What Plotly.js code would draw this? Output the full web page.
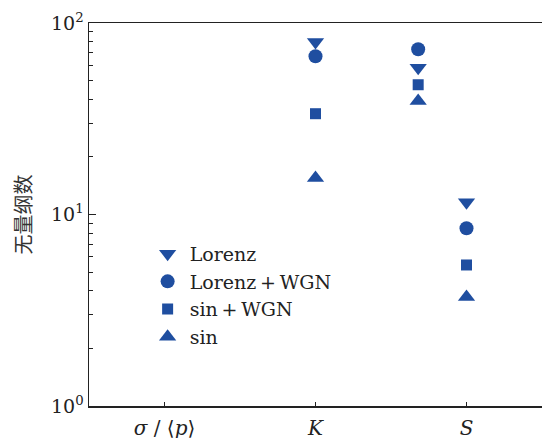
<!DOCTYPE html>
<html>
<head>
<meta charset="utf-8">
<script src="https://cdn.plot.ly/plotly-3.0.1.min.js"></script>
<style>html,body{margin:0;padding:0;background:#fff;}</style>
</head>
<body>
<div id="chart" style="width:542px;height:438px;"></div>
<script>
// Category axis
const categoryPositions = [0, 1, 2];
const categoryLabels = ['<i>σ</i> / ⟨<i>p</i>⟩', '<i>K</i>', '<i>S</i>'];
// x positions of the three marker clusters
const clusterX = [1, 1.68, 2];

// Series values (one per cluster)
const seriesNames = ['Lorenz', 'Lorenz\u2009+\u2009WGN', 'sin\u2009+\u2009WGN', 'sin'];
const lorenz = [79.6, 58.3, 11.6];
const lorenzWGN = [67.0, 72.9, 8.47];
const sinWGN = [33.6, 47.6, 5.45];
const sinOnly = [15.5, 39.1, 3.71];

// y tick labels
const yTickVals = [1, 10, 100];
const yTickText = ['10<sup>0</sup>', '10<sup>1</sup>', '10<sup>2</sup>'];
const yMinorVals = [2,3,4,5,6,7,8,9,20,30,40,50,60,70,80,90];

const color = '#1f4ea0';
const serif = 'DejaVu Serif, serif';
const symbols = ['triangle-down', 'circle', 'square', 'triangle-up'];
const sizes = [15, 14, 11, 15];
const values = [lorenz, lorenzWGN, sinWGN, sinOnly];

const traces = values.map((v, i) => ({
  type: 'scatter', mode: 'markers',
  x: clusterX, y: v, name: seriesNames[i],
  legendgroup: 'g' + i,
  marker: {symbol: symbols[i], size: sizes[i], color: color, line: {width: 0}},
  cliponaxis: false
}));

const layout = {
  width: 542, height: 438,
  margin: {l: 89, r: 0, t: 23, b: 32, pad: 0},
  paper_bgcolor: '#fff', plot_bgcolor: '#fff',
  showlegend: true,
  legend: {
    x: 0.125, y: 0.447, xanchor: 'left', yanchor: 'top',
    font: {family: serif, size: 19, color: '#222'},
    bgcolor: 'rgba(0,0,0,0)', borderwidth: 0,
    tracegroupgap: 0, itemwidth: 34
  },
  xaxis: {
    range: [-0.5, 2.5],
    tickmode: 'array', tickvals: categoryPositions, ticktext: categoryLabels,
    ticks: 'inside', ticklen: 4, tickwidth: 1.2, tickcolor: '#222',
    showline: true, linecolor: '#222', linewidth: 1.5, mirror: true,
    showgrid: false, zeroline: false, ticklabelstandoff: 3,
    tickfont: {family: serif, size: 20, color: '#222'}
  },
  yaxis: {
    type: 'log', range: [0, 2],
    tickmode: 'array', tickvals: yTickVals, ticktext: yTickText,
    ticks: 'inside', ticklen: 7, tickwidth: 1.2, tickcolor: '#222',
    minor: {tickmode: 'array', tickvals: yMinorVals, ticks: 'inside', ticklen: 4, tickwidth: 1, tickcolor: '#222', showgrid: false},
    showline: true, linecolor: '#222', linewidth: 1.5,
    showgrid: false, zeroline: false,
    tickfont: {family: serif, size: 19, color: '#222'},
    title: {text: '无量纲数', font: {family: 'Noto Sans CJK SC', size: 20, color: '#333'}, standoff: 14}
  }
};

Plotly.newPlot('chart', traces, layout, {displayModeBar: false, staticPlot: true});
</script>
</body>
</html>
